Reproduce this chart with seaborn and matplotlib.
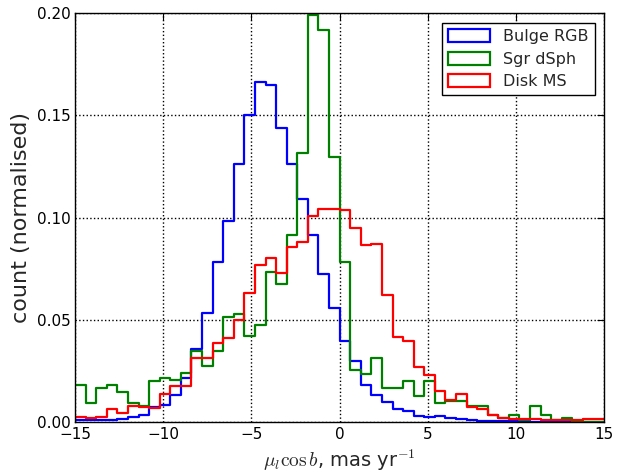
import matplotlib

matplotlib.use("Agg")

import matplotlib.pyplot as plt
import numpy as np
import pandas as pd
import seaborn as sns
from matplotlib.patches import Patch
from matplotlib.ticker import FormatStrFormatter, MultipleLocator

# 50 bins of 0.6 mas/yr between -15 and 15
bin_width = 0.6
bin_range = (-15, 15)
bin_centers = np.arange(-15 + bin_width / 2, 15, bin_width)

# normalised counts
bulge_rgb = [0.0008, 0.0008, 0.0010, 0.0010, 0.0016, 0.0026, 0.0036, 0.0075, 0.0083, 0.0133,
             0.0215, 0.0357, 0.0535, 0.0785, 0.0982, 0.1263, 0.1500, 0.1665, 0.1649, 0.1440,
             0.1264, 0.1092, 0.0913, 0.0723, 0.0557, 0.0398, 0.0296, 0.0180, 0.0133, 0.0100,
             0.0065, 0.0055, 0.0028, 0.0026, 0.0031, 0.0021, 0.0014, 0.0010, 0.0007, 0.0005,
             0.0004, 0.0003, 0.0003, 0.0002, 0.0002, 0.0003, 0.0001, 0.0001, 0.0000, 0.0000]
sgr_dsph = [0.0182, 0.0093, 0.0166, 0.0180, 0.0146, 0.0093, 0.0078, 0.0200, 0.0217, 0.0203,
            0.0238, 0.0349, 0.0276, 0.0349, 0.0515, 0.0530, 0.0420, 0.0475, 0.0732, 0.0675,
            0.0913, 0.1316, 0.1990, 0.1917, 0.1296, 0.0783, 0.0256, 0.0237, 0.0311, 0.0166,
            0.0166, 0.0202, 0.0127, 0.0202, 0.0093, 0.0105, 0.0105, 0.0078, 0.0078, 0.0033,
            0.0020, 0.0036, 0.0008, 0.0078, 0.0036, 0.0008, 0.0020, 0.0000, 0.0000, 0.0000]
disk_ms = [0.0024, 0.0019, 0.0024, 0.0065, 0.0045, 0.0078, 0.0073, 0.0068, 0.0138, 0.0174,
           0.0174, 0.0312, 0.0312, 0.0386, 0.0410, 0.0500, 0.0630, 0.0767, 0.0804, 0.0728,
           0.0855, 0.0880, 0.1007, 0.1043, 0.1043, 0.1035, 0.0950, 0.0864, 0.0869, 0.0622,
           0.0417, 0.0398, 0.0268, 0.0230, 0.0153, 0.0108, 0.0135, 0.0075, 0.0065, 0.0033,
           0.0020, 0.0013, 0.0013, 0.0016, 0.0008, 0.0008, 0.0008, 0.0008, 0.0013, 0.0013]

series = [("Bulge RGB", bulge_rgb, "#0000ff"),
          ("Sgr dSph", sgr_dsph, "#008000"),
          ("Disk MS", disk_ms, "#ff0000")]

sns.set_style("white")
plt.rcParams.update({
    "font.family": ["DejaVu Sans"],
    "mathtext.fontset": "cm",
    "xtick.major.size": 5,
    "ytick.major.size": 5,
    "xtick.color": "black",
    "ytick.color": "black",
    "axes.edgecolor": "black",
    "axes.linewidth": 1.0,
})

fig, ax = plt.subplots(figsize=(6.26, 4.72), dpi=100)
fig.subplots_adjust(left=0.12, right=0.965, top=0.972, bottom=0.106)

for name, vals, col in series:
    df = pd.DataFrame({"mu": bin_centers, "w": vals})
    sns.histplot(data=df, x="mu", weights="w", binwidth=bin_width, binrange=bin_range,
                 element="step", fill=False, color=col, linewidth=1.6, ax=ax)

ax.set_xlim(-15, 15)
ax.set_ylim(0, 0.2)
ax.xaxis.set_major_locator(MultipleLocator(5))
ax.yaxis.set_major_locator(MultipleLocator(0.05))
ax.yaxis.set_major_formatter(FormatStrFormatter("%.2f"))
ax.tick_params(which="both", direction="in", top=True, right=True, labelsize=11)
ax.grid(True, which="major", linestyle=":", color="black", linewidth=1.0)

ax.set_xlabel(r"$\mu_l\cos b$, mas yr$^{-1}$", fontsize=14)
ax.set_ylabel("count (normalised)", fontsize=16)

handles = [Patch(facecolor="none", edgecolor=c, linewidth=1.6, label=n) for n, _, c in series]
leg = ax.legend(handles=handles, loc="upper right", fontsize=11.5, fancybox=False,
                framealpha=1, edgecolor="black", borderaxespad=0.6,
                handlelength=2.6, handleheight=0.9, labelspacing=0.45)
leg.get_frame().set_linewidth(1.0)

fig.savefig("out.png", dpi=100)
